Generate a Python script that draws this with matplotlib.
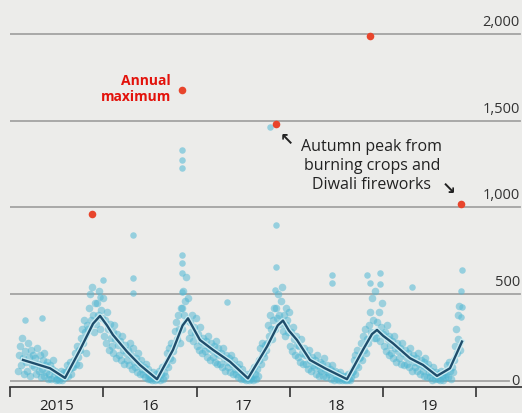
import numpy as np
import matplotlib
matplotlib.use("Agg")
from matplotlib import pyplot as plt
import matplotlib.patheffects as pe

plt.rcParams['font.family'] = ['Open Sans', 'DejaVu Sans']

# daily readings, sampled ~8 per month (micrograms per cubic metre)
pm_2015 = [  # Feb..Dec
    [60, 150, 200, 90, 250, 130, 40, 170],
    [110, 60, 220, 140, 30, 180, 90, 150],
    [80, 130, 40, 190, 100, 60, 150, 20],
    [70, 120, 30, 160, 90, 50, 110, 10],
    [40, 90, 10, 70, 120, 30, 60, 5],
    [10, 40, 5, 30, 60, 5, 20, 50],
    [20, 50, 90, 30, 70, 110, 40, 80],
    [80, 120, 160, 100, 200, 140, 90, 180],
    [180, 250, 300, 220, 350, 280, 160, 320],
    [300, 420, 500, 350, 540, 380, 280, 450],
    [330, 450, 380, 520, 300, 410, 360, 480],
]
pm_2016 = [
    [260, 350, 220, 400, 300, 180, 330, 250],
    [200, 280, 160, 320, 240, 130, 270, 210],
    [150, 230, 120, 260, 180, 100, 210, 160],
    [120, 180, 90, 220, 150, 70, 190, 110],
    [80, 130, 50, 160, 100, 40, 120, 70],
    [40, 80, 20, 100, 50, 10, 70, 30],
    [10, 30, 5, 50, 20, 5, 40, 10],
    [20, 60, 5, 40, 80, 10, 50, 30],
    [100, 160, 80, 190, 130, 220, 120, 170],
    [200, 290, 340, 240, 380, 300, 220, 420],
    [300, 420, 520, 380, 460, 600, 350, 480],
    [250, 340, 280, 380, 230, 310, 270, 360],
]
pm_2017 = [
    [200, 270, 180, 310, 230, 160, 250, 210],
    [170, 230, 140, 260, 190, 120, 220, 180],
    [140, 200, 110, 230, 160, 100, 190, 150],
    [100, 160, 80, 190, 130, 60, 150, 110],
    [80, 130, 50, 150, 100, 40, 120, 70],
    [40, 80, 20, 100, 50, 10, 70, 30],
    [10, 30, 5, 40, 20, 5, 30, 10],
    [20, 60, 5, 80, 40, 10, 70, 30],
    [120, 190, 100, 220, 160, 140, 210, 180],
    [220, 320, 260, 380, 300, 240, 350, 420],
    [300, 420, 360, 500, 380, 330, 460, 540],
    [290, 380, 260, 420, 320, 350, 280, 400],
]
pm_2018 = [
    [200, 280, 170, 310, 240, 150, 260, 210],
    [140, 200, 110, 240, 160, 100, 190, 150],
    [100, 150, 70, 180, 120, 60, 140, 90],
    [80, 120, 40, 150, 90, 30, 110, 70],
    [60, 100, 30, 130, 70, 20, 90, 50],
    [40, 70, 10, 90, 50, 5, 60, 30],
    [10, 40, 5, 50, 20, 5, 30, 10],
    [5, 30, 5, 40, 10, 5, 20, 50],
    [60, 120, 40, 150, 90, 180, 80, 130],
    [140, 220, 120, 260, 180, 300, 160, 240],
    [220, 320, 400, 280, 480, 350, 250, 520],
    [250, 340, 280, 400, 230, 310, 450, 270],
]
pm_2019 = [  # Jan..Oct
    [200, 280, 170, 320, 240, 150, 260, 210],
    [160, 230, 130, 260, 190, 110, 220, 170],
    [130, 190, 100, 220, 160, 90, 180, 140],
    [100, 160, 80, 190, 130, 60, 150, 110],
    [80, 130, 60, 160, 100, 40, 120, 90],
    [60, 110, 30, 130, 80, 20, 100, 50],
    [20, 60, 5, 80, 40, 10, 50, 30],
    [10, 40, 5, 60, 30, 5, 50, 20],
    [40, 90, 20, 110, 60, 10, 80, 50],
    [120, 200, 300, 160, 380, 240, 430, 180],
]
first_month = {2015: 2, 2016: 1, 2017: 1, 2018: 1, 2019: 1}

# stray high days (decimal year, value)
spike_dates = [2015.161, 2015.343, 2015.997, 2015.965, 2016.318, 2016.318, 2016.318,
               2016.840, 2016.840, 2016.840, 2016.840, 2016.840, 2016.840, 2016.840,
               2017.326, 2017.787, 2017.856, 2017.856, 2017.840, 2018.451, 2018.451,
               2018.826, 2018.859, 2018.966, 2018.966, 2019.310, 2019.841, 2019.841,
               2019.836, 2019.836]
spike_values = [351, 363, 582, 486, 593, 507, 841,
                1331, 1274, 1228, 726, 680, 622, 513,
                457, 1464, 899, 659, 524, 611, 565,
                611, 565, 622, 560, 543, 640, 428,
                371, 520]

# smoothed trend
trend_dates = [2015.139, 2015.429, 2015.590, 2015.750, 2015.890, 2015.965, 2016.040, 2016.104,
               2016.254, 2016.393, 2016.576, 2016.747, 2016.850, 2016.908, 2016.970, 2017.036,
               2017.176, 2017.358, 2017.551, 2017.755, 2017.870, 2017.926, 2017.990, 2018.076,
               2018.215, 2018.376, 2018.612, 2018.783, 2018.880, 2018.934, 2019.000, 2019.105,
               2019.287, 2019.427, 2019.577, 2019.716, 2019.845]
trend_values = [121, 73, 17, 179, 330, 375, 320, 265,
                169, 92, 10, 179, 320, 361, 300, 236,
                179, 111, 15, 198, 320, 348, 290, 236,
                121, 73, 10, 179, 270, 294, 260, 217,
                131, 92, 29, 73, 227]

# annual maxima
max_dates = [2015.880, 2016.840, 2017.855, 2018.857, 2019.833]
max_values = [963, 1677, 1481, 1988, 1020]

years = [2015, 2016, 2017, 2018, 2019, 2020]
year_labels = ['2015', '16', '17', '18', '19']
y_ticks = [0, 500, 1000, 1500, 2000]

# build scatter positions
dot_t, dot_v = [], []
for yr, months in zip([2015, 2016, 2017, 2018, 2019], [pm_2015, pm_2016, pm_2017, pm_2018, pm_2019]):
    for k, vals in enumerate(months):
        m = first_month[yr] + k - 1
        n = len(vals)
        for i, v in enumerate(vals):
            dot_t.append(yr + (m + (i + 0.5) / n) / 12)
            dot_v.append(v)

bg = '#ececea'
fig = plt.figure(figsize=(5.22, 4.13), dpi=100, facecolor=bg)
ax = fig.add_axes([10 / 522, 26 / 413, 512 / 522, 387 / 413])
ax.set_facecolor(bg)
ax.set_xlim(2015.0, 2020.488)
ax.set_ylim(-35, 2196)

# gridlines and labels
for v in y_ticks:
    ax.axhline(v, xmin=0, xmax=0.975 if v == 0 else 0.996, color='#a3a3a3', lw=1.3, zorder=1)
    lab = '{:,}'.format(v)
    off = -6 if v == 0 else 3
    ax.annotate(lab, xy=(0.996, v), xycoords=('axes fraction', 'data'),
                xytext=(0, off), textcoords='offset points',
                ha='right', va='bottom', fontsize=10.5, color='#333333')

ax.scatter(dot_t, dot_v, s=30, color='#4eb6d2', alpha=0.5, lw=0, zorder=2)
ax.scatter(spike_dates, spike_values, s=22, color='#5cbcd6', alpha=0.6, lw=0, zorder=2)

ax.plot(trend_dates, trend_values, color='#1f4d6b', lw=1.7, zorder=4,
        path_effects=[pe.Stroke(linewidth=3.6, foreground='#c9ecf3'), pe.Normal()])

ax.scatter(max_dates, max_values, s=30, color='#e8452c', lw=0, zorder=5)

ax.text(2016.726, 1683, 'Annual\nmaximum', ha='right', va='center', color='#e3120b',
        fontsize=10, fontweight='bold', linespacing=1.15)
ax.text(2018.88, 1239, 'Autumn peak from\nburning crops and\nDiwali fireworks',
        ha='center', va='center', color='#222222', fontsize=11.5, linespacing=1.25)
ax.text(2017.97, 1390, '\u2196', ha='center', va='center', fontsize=12, color='#222222',
        family='DejaVu Sans', fontweight='bold')
ax.text(2019.705, 1105, '\u2198', ha='center', va='center', fontsize=12, color='#222222',
        family='DejaVu Sans', fontweight='bold')

# x axis
for s in ['top', 'right', 'left']:
    ax.spines[s].set_visible(False)
ax.spines['bottom'].set_color('#333333')
ax.spines['bottom'].set_linewidth(1.2)
ax.set_yticks([])
ax.set_xticks(years)
ax.set_xticklabels([])
ax.set_xticks([y + 0.5 for y in years[:-1]], minor=True)
ax.set_xticklabels(year_labels, minor=True)
ax.tick_params(axis='x', which='major', direction='out', length=7.5, width=1.2, color='#333333')
ax.tick_params(axis='x', which='minor', length=0, pad=9, labelsize=11, labelcolor='#222222')

fig.savefig('out.png', dpi=100, facecolor=bg)
